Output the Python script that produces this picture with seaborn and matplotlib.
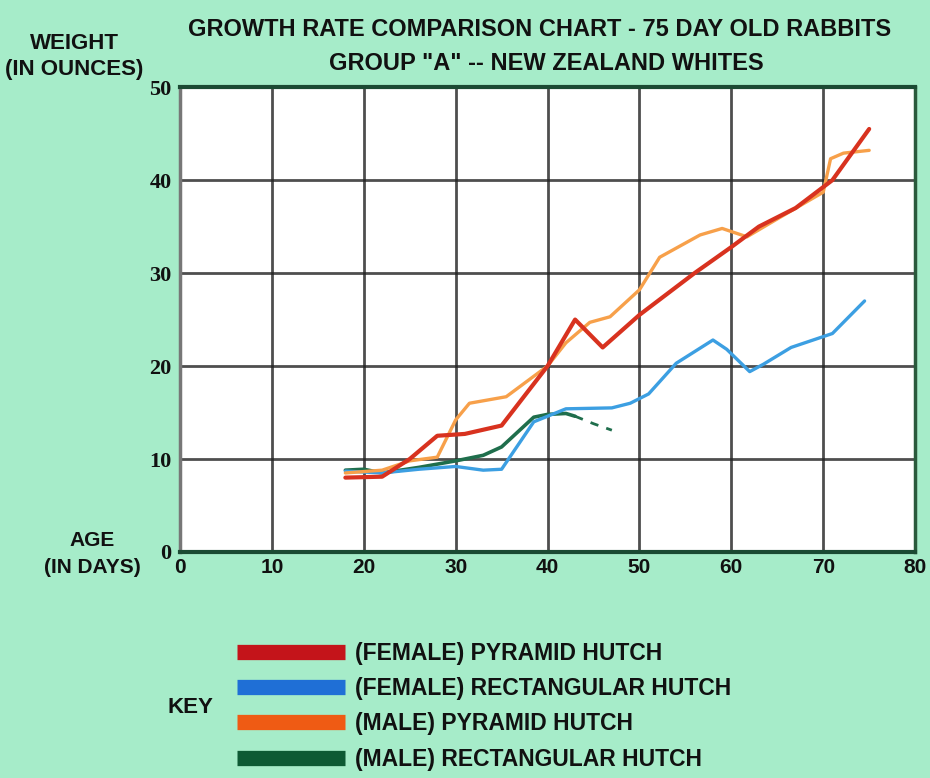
import matplotlib
matplotlib.use("Agg")
import matplotlib.pyplot as plt
from matplotlib.lines import Line2D
import seaborn as sns
import pandas as pd

# ---- data ----
fp_age = [18, 22, 25, 28, 31, 35, 40, 43, 46, 50, 56, 60, 63, 67, 71, 75]
fp_wt = [8.0, 8.1, 10.0, 12.5, 12.7, 13.6, 20.0, 25.0, 22.0, 25.5, 30.0, 32.8, 35.0, 37.0, 40.0, 45.5]

fr_age = [18, 22, 26, 30, 33, 35, 38.5, 40, 42, 47, 49, 51, 54, 58, 59.5, 62, 63.5, 66.5, 69.5, 71, 74.5]
fr_wt = [8.7, 8.5, 8.9, 9.2, 8.8, 8.9, 14.0, 14.6, 15.4, 15.5, 16.0, 17.0, 20.3, 22.8, 21.8, 19.4, 20.2, 22.0, 23.0, 23.5, 27.0]

mp_age = [18, 22, 25, 28, 30, 31.5, 35.5, 40, 42, 44.6, 46.8, 50, 52.2, 56.6, 59, 61.7, 65.3, 70, 70.8, 72.2, 75]
mp_wt = [8.5, 8.8, 9.8, 10.2, 14.2, 16.0, 16.7, 20.0, 22.5, 24.7, 25.3, 28.2, 31.7, 34.1, 34.8, 33.9, 36.0, 38.7, 42.3, 42.9, 43.2]

mr_age = [18, 20, 22, 26, 30, 33, 35, 38.5, 40, 42, 43]
mr_wt = [8.8, 8.9, 8.5, 9.1, 9.8, 10.4, 11.3, 14.5, 14.8, 14.9, 14.6]
mr_dash_age = [43, 45, 47]
mr_dash_wt = [14.6, 13.8, 13.1]

series_names = ["(FEMALE) PYRAMID HUTCH", "(FEMALE) RECTANGULAR HUTCH",
                "(MALE) PYRAMID HUTCH", "(MALE) RECTANGULAR HUTCH"]
line_colors = ["#d8321f", "#3c9fe2", "#f7a04a", "#1f6e4c"]
key_colors = ["#c4141a", "#1f6fd6", "#ef5b14", "#0d5a34"]
x_ticks = [0, 10, 20, 30, 40, 50, 60, 70, 80]
y_ticks = [0, 10, 20, 30, 40, 50]

title1 = "GROWTH RATE COMPARISON CHART - 75 DAY OLD RABBITS"
title2 = 'GROUP "A" -- NEW ZEALAND WHITES'

frames = []
for name, a, w in zip(series_names, [fp_age, fr_age, mp_age, mr_age], [fp_wt, fr_wt, mp_wt, mr_wt]):
    frames.append(pd.DataFrame({"age": a, "weight": w, "series": name}))
df = pd.concat(frames, ignore_index=True)
df_dash = pd.DataFrame({"age": mr_dash_age, "weight": mr_dash_wt})

bg = "#a6ecc9"
sns.set_theme(style="white")
sans = ["Liberation Sans", "DejaVu Sans"]
plt.rcParams["font.family"] = sans
plt.rcParams["text.color"] = "#111111"
plt.rcParams["xtick.color"] = "#111111"
plt.rcParams["ytick.color"] = "#111111"

fig = plt.figure(figsize=(9.30, 7.78), dpi=100, facecolor=bg)
ax = fig.add_axes([0.1935, 0.2905, 0.7905, 0.5975])
ax.set_facecolor("white")

palette = dict(zip(series_names, line_colors))
widths = {series_names[0]: 3.0, series_names[1]: 2.4, series_names[2]: 2.4, series_names[3]: 2.6}
for name in [series_names[3], series_names[1], series_names[2], series_names[0]]:
    sub = df[df["series"] == name]
    sns.lineplot(data=sub, x="age", y="weight", color=palette[name], lw=widths[name],
                 sort=False, ax=ax, legend=False, estimator=None, zorder=3)
sns.lineplot(data=df_dash, x="age", y="weight", color=line_colors[3], lw=2.0,
             linestyle=(0, (3, 3)), sort=False, ax=ax, legend=False, estimator=None, zorder=3)

ax.set_xlim(0, 80)
ax.set_ylim(0, 50)
ax.set_xticks(x_ticks)
ax.set_yticks(y_ticks)
ax.grid(True, color="#222222", lw=2.0, alpha=0.8)
ax.set_axisbelow(True)
ax.set_xlabel("")
ax.set_ylabel("")
for s in ["top", "bottom"]:
    ax.spines[s].set_color("#1b4a33")
    ax.spines[s].set_linewidth(3)
ax.spines["left"].set_color("#777777")
ax.spines["left"].set_linewidth(2.5)
ax.spines["right"].set_color("#2a5a3c")
ax.spines["right"].set_linewidth(2.5)

ax.tick_params(axis="both", length=0)
ax.set_xticklabels([str(t) for t in x_ticks], fontsize=15, fontweight="bold", family=sans)
ax.set_yticklabels([str(t) for t in y_ticks], fontsize=16, fontweight="bold",
                   family=["Liberation Serif", "DejaVu Serif"])
ax.tick_params(axis="x", pad=4)
ax.tick_params(axis="y", pad=6)

fig.text(0.58, 0.962, title1, ha="center", va="center", fontsize=17, fontweight="bold")
fig.text(0.587, 0.919, title2, ha="center", va="center", fontsize=17, fontweight="bold")
fig.text(0.08, 0.944, "WEIGHT", ha="center", va="center", fontsize=16, fontweight="bold")
fig.text(0.08, 0.911, "(IN OUNCES)", ha="center", va="center", fontsize=16, fontweight="bold")
fig.text(0.099, 0.305, "AGE", ha="center", va="center", fontsize=15, fontweight="bold")
fig.text(0.099, 0.271, "(IN DAYS)", ha="center", va="center", fontsize=15, fontweight="bold")

fig.text(0.205, 0.091, "KEY", ha="center", va="center", fontsize=16, fontweight="bold")
handles = [Line2D([0], [0], color=c, lw=11, solid_capstyle="butt") for c in key_colors]
fig.legend(handles, series_names, loc="center left", bbox_to_anchor=(237 / 930, 0.092),
           frameon=False, borderpad=0, borderaxespad=0,
           handlelength=4.7, handletextpad=0.45, labelspacing=0.53,
           prop={"size": 16.5, "weight": "bold", "family": sans})

fig.savefig("out.png", dpi=100, facecolor=bg)
